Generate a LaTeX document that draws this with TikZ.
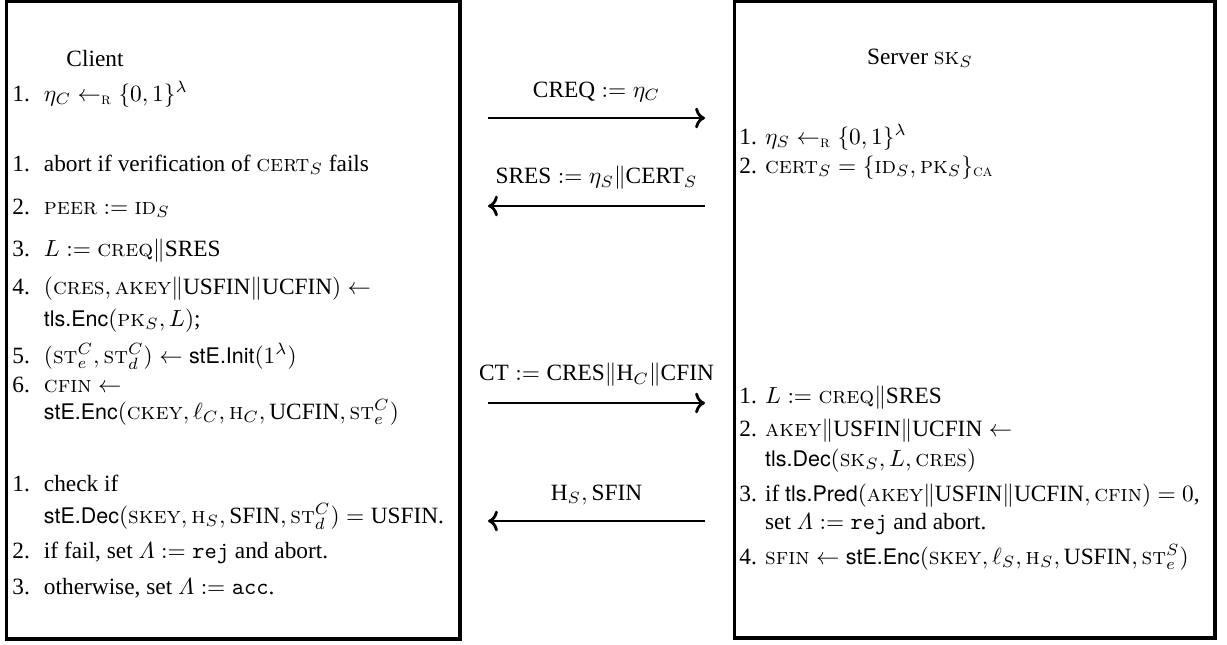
\documentclass[tikz,border=0pt]{standalone}
\usepackage{amsmath}
\usepackage{amssymb}
\usepackage[no-math]{fontspec}
\setmainfont{Liberation Serif}
\newfontfamily\algfont[Scale=0.92]{TeX Gyre Heros}
\usetikzlibrary{arrows.meta}

% small caps names, full caps names, algorithm names
\newcommand{\nm}[1]{\text{\fontfamily{lmr}\selectfont\scshape #1}}
\newcommand{\fc}[1]{\text{#1}}
\newcommand{\alg}[1]{\text{\algfont #1}}
\newcommand{\rnd}{\mathrel{\leftarrow_{\nm{r}}}}
\newcommand{\lbl}[1]{\makebox[13.5pt][l]{#1}}
\newcommand{\rlbl}[1]{\makebox[11pt][l]{#1}}

\tikzset{
  box/.style={line width=1.5pt},
  itm/.style={anchor=base west, inner sep=0pt},
  ttl/.style={anchor=base, inner sep=0pt},
  msg/.style={->, line width=1.2pt},
  lab/.style={midway, above=3pt}
}

\begin{document}
\begin{tikzpicture}[x=0.4286pt, y=-0.4286pt]
  \useasboundingbox (0,0) rectangle (1227,644);
  % the two parties
  \draw[box] (6.5,1.5) rectangle (460,639);
  \draw[box] (734.5,1.5) rectangle (1215,638);
  \node[ttl] (client) at (95,66) {Client};
  \node[ttl] (server) at (920,64) {Server $\nm{sk}_S$};

  % client steps
  \foreach \nn/\yy/\txt in {
      c1/101/{\lbl{1.}$\eta_C \rnd \{0,1\}^\lambda$},
      c2/171/{\lbl{1.}abort if verification of $\nm{cert}_S$ fails},
      c3/214/{\lbl{2.}$\nm{peer} := \nm{id}_S$},
      c4/256/{\lbl{3.}$L := \nm{creq}\|\fc{SRES}$},
      c5/294/{\lbl{4.}$(\nm{cres}, \nm{akey}\|\fc{USFIN}\|\fc{UCFIN}) \leftarrow$},
      c6/326/{\lbl{}$\alg{tls.Enc}(\nm{pk}_S, L)$;},
      c7/363/{\lbl{5.}$(\nm{st}_e^C, \nm{st}_d^C) \leftarrow \alg{stE.Init}(1^\lambda)$},
      c8/392/{\lbl{6.}$\nm{cfin} \leftarrow$},
      c9/419/{\lbl{}$\alg{stE.Enc}(\nm{ckey}, \ell_C, \nm{h}_C, \fc{UCFIN}, \nm{st}_e^C)$},
      c10/491/{\lbl{1.}check if},
      c11/523/{\lbl{}$\alg{stE.Dec}(\nm{skey}, \nm{h}_S, \fc{SFIN}, \nm{st}_d^C) = \fc{USFIN}$.},
      c12/558/{\lbl{2.}if fail, set $\varLambda := \mathtt{rej}$ and abort.},
      c13/594/{\lbl{3.}otherwise, set $\varLambda := \mathtt{acc}$.}}
    \node[itm] (\nn) at (12,\yy) {\txt};

  % server steps
  \foreach \nn/\yy/\txt in {
      s1/144/{\rlbl{1.}$\eta_S \rnd \{0,1\}^\lambda$},
      s2/173/{\rlbl{2.}$\nm{cert}_S = \{\nm{id}_S, \nm{pk}_S\}_{\nm{ca}}$},
      s3/403/{\rlbl{1.}$L := \nm{creq}\|\fc{SRES}$},
      s4/436/{\rlbl{2.}$\nm{akey}\|\fc{USFIN}\|\fc{UCFIN} \leftarrow$},
      s5/466/{\rlbl{}$\alg{tls.Dec}(\nm{sk}_S, L, \nm{cres})$},
      s6/501/{\rlbl{3.}if $\alg{tls.Pred}(\nm{akey}\|\fc{USFIN}\|\fc{UCFIN}, \nm{cfin}) = 0$,},
      s7/529/{\rlbl{}set $\varLambda := \mathtt{rej}$ and abort.},
      s8/564/{\rlbl{4.}$\nm{sfin} \leftarrow \alg{stE.Enc}(\nm{skey}, \ell_S, \nm{h}_S, \fc{USFIN}, \nm{st}_e^S)$}}
    \node[itm] (\nn) at (739,\yy) {\txt};

  % messages
  \coordinate (m1a) at (488,118);  \coordinate (m1b) at (705,118);
  \coordinate (m2a) at (705,206);  \coordinate (m2b) at (488,206);
  \coordinate (m3a) at (488,403);  \coordinate (m3b) at (705,403);
  \coordinate (m4a) at (705,521);  \coordinate (m4b) at (488,521);
  \draw[msg] (m1a) -- (m1b) node[lab] (creq) {$\fc{CREQ} := \eta_C$};
  \draw[msg] (m2a) -- (m2b) node[lab] (sres) {$\fc{SRES} := \eta_S\|\fc{CERT}_S$};
  \draw[msg] (m3a) -- (m3b) node[lab] (ct) {$\fc{CT} := \fc{CRES}\|\fc{H}_C\|\fc{CFIN}$};
  \draw[msg] (m4a) -- (m4b) node[lab] (sfin) {$\fc{H}_S, \fc{SFIN}$};
\end{tikzpicture}
\end{document}
